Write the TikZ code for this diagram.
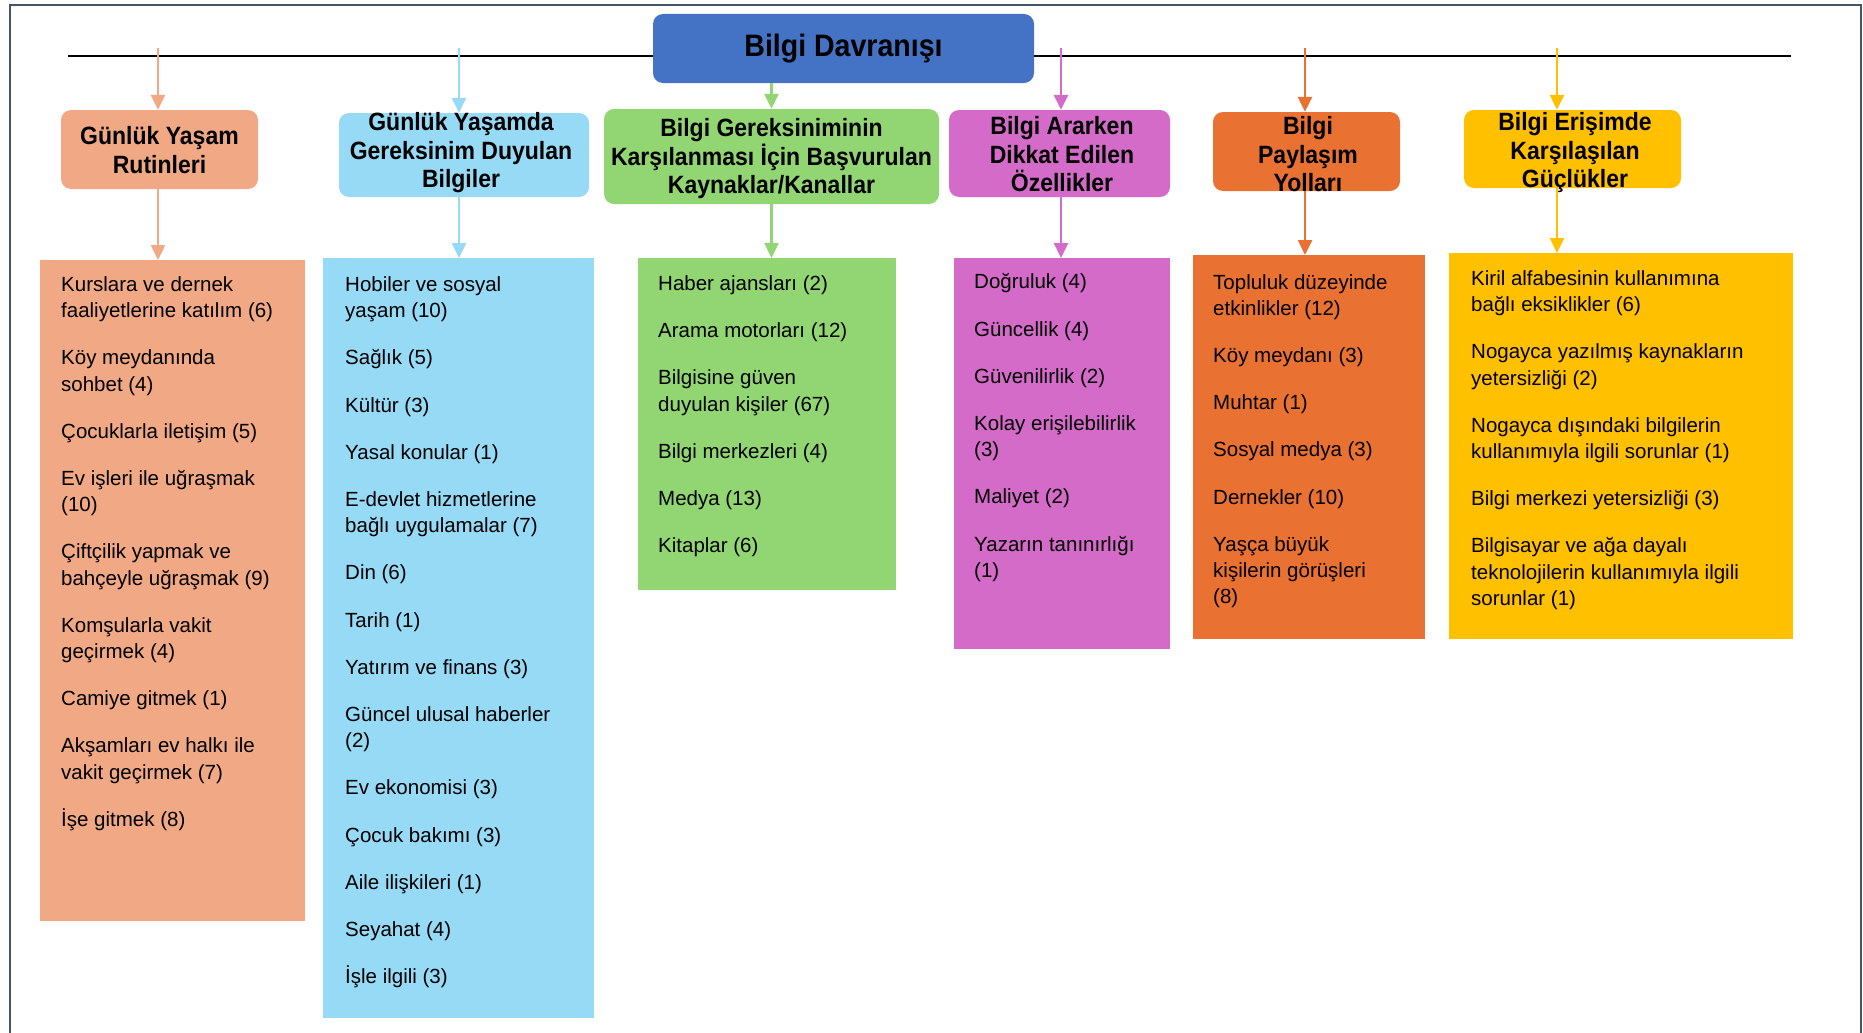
\documentclass[tikz,border=0pt]{standalone}
\usepackage{fontspec}
\setmainfont{Liberation Sans}
\newfontfamily\hfont[FakeStretch=0.92]{Liberation Sans}
\usetikzlibrary{arrows.meta}
\definecolor{cframe}{HTML}{44546A}
\definecolor{ctop}{HTML}{4472C4}
\definecolor{csal}{HTML}{F0A984}
\definecolor{cblu}{HTML}{97DAF6}
\definecolor{cgrn}{HTML}{92D673}
\definecolor{cmag}{HTML}{D46BC8}
\definecolor{cora}{HTML}{E97132}
\definecolor{cyel}{HTML}{FFC000}
\begin{document}
\begin{tikzpicture}[x=1pt,y=-1pt,
  hbox/.style={draw=none, rounded corners=10pt, inner sep=0pt},
  htext/.style={font=\hfont\bfseries\fontsize{25}{28.5}\selectfont, align=center, inner sep=0pt},
  lbox/.style={draw=none, inner sep=0pt, anchor=north west},
  ltext/.style={font=\fontsize{20.5}{26.2}\selectfont, align=left, inner sep=0pt, anchor=north west},
  arr/.style={line width=2.5pt, -{Triangle[width=14pt,length=15pt]}}
]
\useasboundingbox (0,0) rectangle (1863,1033);
% frame
\draw[cframe, line width=2.5pt] (10,1033) -- (10,5) -- (1861,5) -- (1861,1033);
% horizontal bar
\draw[black, line width=2.5pt] (68,56) -- (1791,56);
% title
\node[hbox, fill=ctop, minimum width=381pt, minimum height=69pt,
      font=\hfont\bfseries\fontsize{31}{36}\selectfont] (top) at (843.5,48.5) {Bilgi Davranışı};

% header boxes
\node[hbox, fill=csal, minimum width=197pt, minimum height=79pt] (h1) at (159.5,149.5) {};
\node[hbox, fill=cblu, minimum width=250pt, minimum height=84pt] (h2) at (464,155) {};
\node[hbox, fill=cgrn, minimum width=335pt, minimum height=95pt] (h3) at (771.5,156.5) {};
\node[hbox, fill=cmag, minimum width=221pt, minimum height=87pt] (h4) at (1059.5,153.5) {};
\node[hbox, fill=cora, minimum width=187pt, minimum height=79pt] (h5) at (1306.5,151.5) {};
\node[hbox, fill=cyel, minimum width=217pt, minimum height=78pt] (h6) at (1572.5,149) {};

\node[htext] (ht1) at (159.5,150) {Günlük Yaşam\\Rutinleri};
\node[htext] (ht2) at (461,153) {Günlük Yaşamda\\Gereksinim Duyulan\\Bilgiler};
\node[htext] (ht3) at (771.5,159) {Bilgi Gereksiniminin\\Karşılanması İçin Başvurulan\\Kaynaklar/Kanallar};
\node[htext] (ht4) at (1062,154.5) {Bilgi Ararken\\Dikkat Edilen\\Özellikler};
\node[htext] (ht5) at (1308,154.5) {Bilgi\\Paylaşım\\Yolları};
\node[htext] (ht6) at (1575,153) {Bilgi Erişimde\\Karşılaşılan\\Güçlükler};

% list boxes
\node[lbox, fill=csal, minimum width=265pt, minimum height=661pt] (l1) at (40,260) {};
\node[lbox, fill=cblu, minimum width=271pt, minimum height=760pt] (l2) at (323,258) {};
\node[lbox, fill=cgrn, minimum width=258pt, minimum height=332pt] (l3) at (638,258) {};
\node[lbox, fill=cmag, minimum width=216pt, minimum height=391pt] (l4) at (954,258) {};
\node[lbox, fill=cora, minimum width=232pt, minimum height=384pt] (l5) at (1193,255) {};
\node[lbox, fill=cyel, minimum width=344pt, minimum height=386pt] (l6) at (1449,253) {};

% list texts
\node[ltext] (t1) at (61,276.5) {Kurslara ve dernek\\faaliyetlerine katılım (6)\\[21pt]Köy meydanında\\sohbet (4)\\[21pt]Çocuklarla iletişim (5)\\[21pt]Ev işleri ile uğraşmak\\(10)\\[21pt]Çiftçilik yapmak ve\\bahçeyle uğraşmak (9)\\[21pt]Komşularla vakit\\geçirmek (4)\\[21pt]Camiye gitmek (1)\\[21pt]Akşamları ev halkı ile\\vakit geçirmek (7)\\[21pt]İşe gitmek (8)};
\node[ltext] (t2) at (345,276.5) {Hobiler ve sosyal\\yaşam (10)\\[21pt]Sağlık (5)\\[21pt]Kültür (3)\\[21pt]Yasal konular (1)\\[21pt]E-devlet hizmetlerine\\bağlı uygulamalar (7)\\[21pt]Din (6)\\[21pt]Tarih (1)\\[21pt]Yatırım ve finans (3)\\[21pt]Güncel ulusal haberler\\(2)\\[21pt]Ev ekonomisi (3)\\[21pt]Çocuk bakımı (3)\\[21pt]Aile ilişkileri (1)\\[21pt]Seyahat (4)\\[21pt]İşle ilgili (3)};
\node[ltext] (t3) at (658,275.5) {Haber ajansları (2)\\[21pt]Arama motorları (12)\\[21pt]Bilgisine güven\\duyulan kişiler (67)\\[21pt]Bilgi merkezleri (4)\\[21pt]Medya (13)\\[21pt]Kitaplar (6)};
\node[ltext] (t4) at (974,273.5) {Doğruluk (4)\\[21pt]Güncellik (4)\\[21pt]Güvenilirlik (2)\\[21pt]Kolay erişilebilirlik\\(3)\\[21pt]Maliyet (2)\\[21pt]Yazarın tanınırlığı\\(1)};
\node[ltext] (t5) at (1213,274) {Topluluk düzeyinde\\etkinlikler (12)\\[21pt]Köy meydanı (3)\\[21pt]Muhtar (1)\\[21pt]Sosyal medya (3)\\[21pt]Dernekler (10)\\[21pt]Yaşça büyük\\kişilerin görüşleri\\(8)};
\node[ltext] (t6) at (1471,270.5) {Kiril alfabesinin kullanımına\\bağlı eksiklikler (6)\\[21pt]Nogayca yazılmış kaynakların\\yetersizliği (2)\\[21pt]Nogayca dışındaki bilgilerin\\kullanımıyla ilgili sorunlar (1)\\[21pt]Bilgi merkezi yetersizliği (3)\\[21pt]Bilgisayar ve ağa dayalı\\teknolojilerin kullanımıyla ilgili\\sorunlar (1)};

% arrow start points on the bar
\coordinate (s1) at (158,48);
\coordinate (s2) at (459,48);
\coordinate (s4) at (1061,48);
\coordinate (s5) at (1305,48);
\coordinate (s6) at (1557,48);

% arrows bar -> headers
\draw[arr, csal] (s1) -- (s1 |- h1.north);
\draw[arr, cblu] (s2) -- (s2 |- h2.north);
\draw[arr, cgrn] (top.south -| h3) -- (h3.north);
\draw[arr, cmag] (s4) -- (s4 |- h4.north);
\draw[arr, cora] (s5) -- (s5 |- h5.north);
\draw[arr, cyel] (s6) -- (s6 |- h6.north);

% arrows headers -> lists
\draw[arr, csal] (s1 |- h1.south) -- (s1 |- l1.north);
\draw[arr, cblu] (s2 |- h2.south) -- (s2 |- l2.north);
\draw[arr, cgrn] (h3.south) -- (h3.south |- l3.north);
\draw[arr, cmag] (s4 |- h4.south) -- (s4 |- l4.north);
\draw[arr, cora] (s5 |- h5.south) -- (s5 |- l5.north);
\draw[arr, cyel] (s6 |- h6.south) -- (s6 |- l6.north);
\end{tikzpicture}
\end{document}
